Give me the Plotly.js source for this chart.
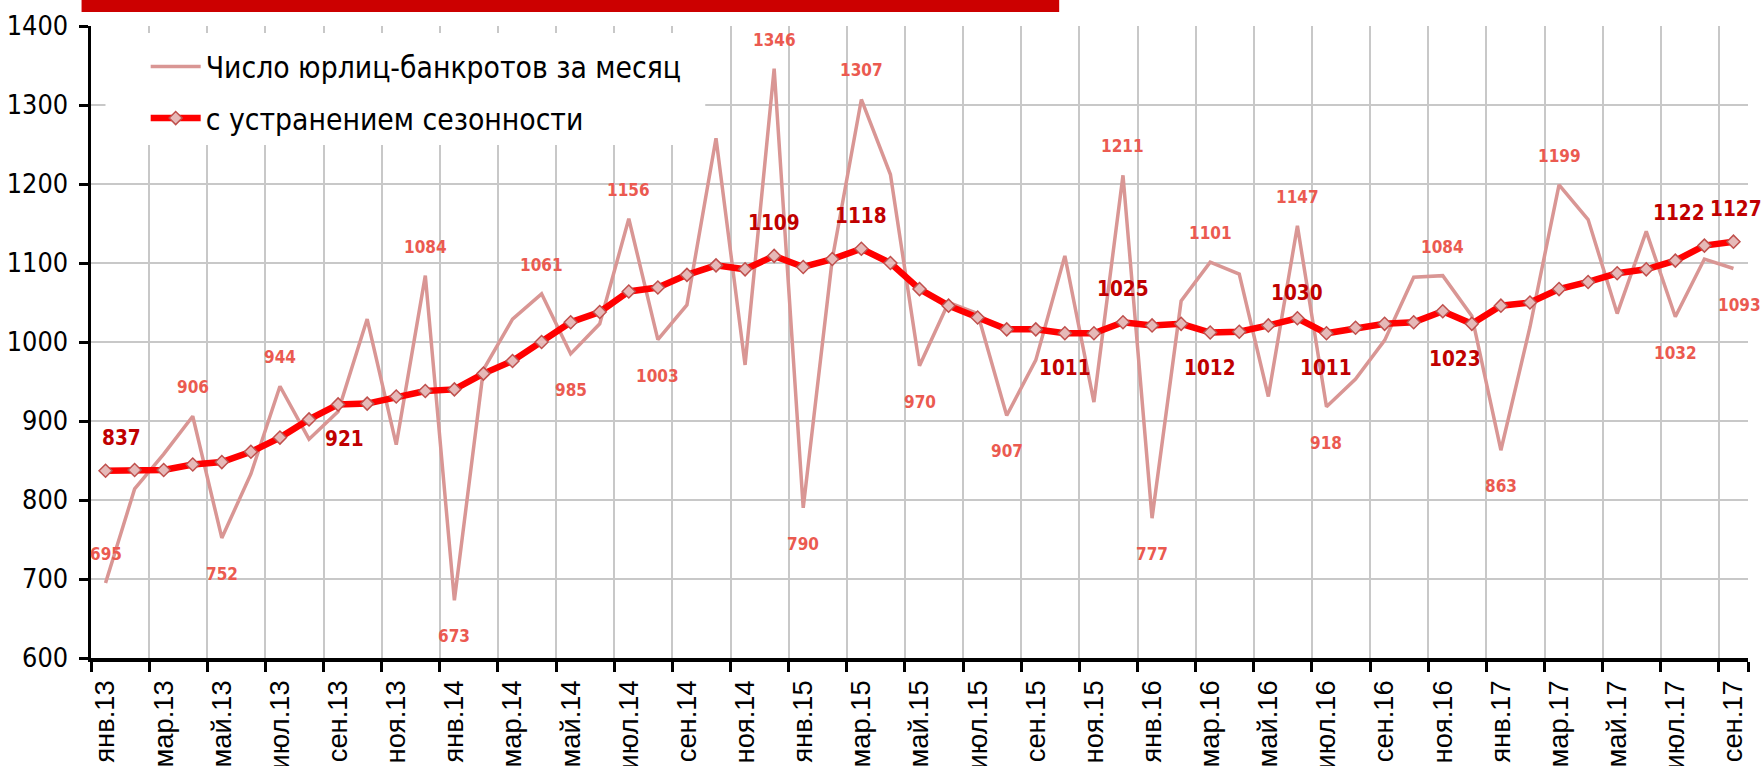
<!DOCTYPE html>
<html>
<head>
<meta charset="utf-8">
<script src="https://cdn.plot.ly/plotly-3.0.1.min.js"></script>
<style>
html,body{margin:0;padding:0;background:#fff;}
#chart{width:1763px;height:766px;}
</style>
</head>
<body>
<div id="chart"></div>
<script>
// ---- data ----
const months = [
  'янв.13','фев.13','мар.13','апр.13','май.13','июн.13','июл.13','авг.13','сен.13','окт.13','ноя.13','дек.13',
  'янв.14','фев.14','мар.14','апр.14','май.14','июн.14','июл.14','авг.14','сен.14','окт.14','ноя.14','дек.14',
  'янв.15','фев.15','мар.15','апр.15','май.15','июн.15','июл.15','авг.15','сен.15','окт.15','ноя.15','дек.15',
  'янв.16','фев.16','мар.16','апр.16','май.16','июн.16','июл.16','авг.16','сен.16','окт.16','ноя.16','дек.16',
  'янв.17','фев.17','мар.17','апр.17','май.17','июн.17','июл.17','авг.17','сен.17'
];
const rawName = 'Число юрлиц-банкротов за месяц';
const rawValues = [
  695, 814, 858, 906, 752, 833, 944, 877, 912, 1029, 870, 1084,
  673, 965, 1029, 1061, 985, 1023, 1156, 1003, 1047, 1258, 971, 1346,
  790, 1105, 1307, 1212, 970, 1050, 1036, 907, 977, 1109, 924, 1211,
  777, 1052, 1101, 1086, 931, 1147, 918, 953, 1002, 1082, 1084, 1033,
  863, 1019, 1199, 1155, 1036, 1140, 1032, 1105, 1093
];
const saName = 'с устранением сезонности';
const saValues = [
  837, 838, 838, 845, 848, 861, 879, 902, 921, 922, 931, 938,
  940, 960, 976, 1000, 1025, 1038, 1064, 1069, 1085, 1097, 1092, 1109,
  1095, 1105, 1118, 1100, 1067, 1046, 1031, 1016, 1016, 1011, 1011, 1025,
  1021, 1023, 1012, 1013, 1021, 1030, 1011, 1018, 1023, 1025, 1039, 1023,
  1046, 1050, 1067, 1076, 1087, 1092, 1103, 1122, 1127
];
const tickLabels = months.filter((m, i) => i % 2 === 0);

// ---- label placement (style) : index -> [above/below, xshift] ----
const rawLabelPos = {
  0:['a',0], 3:['a',0], 4:['b',0], 6:['a',0], 11:['a',0], 12:['b',0], 15:['a',0], 16:['b',0],
  18:['a',0], 19:['b',0], 23:['a',0], 24:['b',0], 26:['a',0], 28:['b',0], 31:['b',0], 35:['a',0],
  36:['b',0], 38:['a',0], 41:['a',0], 42:['b',0], 46:['a',0], 48:['b',0], 50:['a',0], 54:['b',0], 56:['b',6]
};
const saLabelPos = {
  0:['a',16], 8:['b',6], 23:['a',0], 26:['a',0], 33:['b',0], 35:['a',0], 38:['b',0],
  41:['a',0], 42:['b',0], 47:['b',-17], 55:['a',-25], 56:['a',3]
};

const NARROW = '"Liberation Sans Narrow", "Arial Narrow", "Noto Sans Condensed", "DejaVu Sans Condensed", sans-serif';
const REG = '"Liberation Sans", Arial, sans-serif';

// size a font so that a sample string gets roughly the width it has in the reference
const ctx = document.createElement('canvas').getContext('2d');
function fitSize(sample, family, weight, targetWidth) {
  ctx.font = weight + ' 100px ' + family;
  const w = ctx.measureText(sample).width;
  return Math.round(100 * targetWidth / w * 10) / 10;
}
const legendSize = fitSize(rawName, NARROW, 'normal', 462) * 1.03;
const yTickSize = fitSize('1400', NARROW, 'normal', 58) * 1.06;
const rawLabelSize = fitSize('1346', NARROW, 'bold', 38) * 1.12;
const saLabelSize = fitSize('1127', NARROW, 'bold', 46) * 1.12;
const xTickSize = fitSize('июл.13', REG, 'normal', 89);

const annotations = [];
Object.keys(rawLabelPos).forEach(k => {
  const i = +k, p = rawLabelPos[k];
  annotations.push({
    x: months[i], y: rawValues[i], xref: 'x', yref: 'y', text: String(rawValues[i]),
    showarrow: false, xshift: p[1], yshift: p[0] === 'a' ? 29 : -36,
    font: {family: NARROW, size: rawLabelSize, color: '#EB5A50', weight: 'bold'}
  });
});
Object.keys(saLabelPos).forEach(k => {
  const i = +k, p = saLabelPos[k];
  annotations.push({
    x: months[i], y: saValues[i], xref: 'x', yref: 'y', text: String(saValues[i]),
    showarrow: false, xshift: p[1], yshift: p[0] === 'a' ? (i === 41 ? 25 : 33) : -35,
    font: {family: NARROW, size: saLabelSize, color: '#C00000', weight: 'bold'}
  });
});

const traces = [
  {
    type: 'scatter', mode: 'lines', name: rawName, x: months, y: rawValues,
    line: {color: '#D99694', width: 3.5}, legendgroup: 'g1'
  },
  {
    type: 'scatter', mode: 'lines+markers', name: saName, x: months, y: saValues,
    line: {color: '#FF0000', width: 6.5},
    marker: {symbol: 'diamond', size: 10, color: '#E6B9B8', line: {color: '#C0504D', width: 1.5}},
    legendgroup: 'g2'
  }
];

const layout = {
  width: 1763, height: 766,
  margin: {l: 90.5, r: 15, t: 26, b: 108},
  paper_bgcolor: '#ffffff', plot_bgcolor: '#ffffff',
  showlegend: true,
  hovermode: false,
  legend: {
    x: 0.033, y: 0.977, xanchor: 'left', yanchor: 'top',
    bgcolor: 'rgba(0,0,0,0)', borderwidth: 0,
    font: {family: NARROW, size: legendSize, color: '#000000'},
    tracegroupgap: 10, itemwidth: 50
  },
  xaxis: {
    type: 'category', range: [-0.5, months.length - 0.5],
    tickmode: 'array', tickvals: tickLabels, ticktext: tickLabels,
    tickson: 'boundaries', tickangle: -90,
    ticks: 'outside', ticklen: 10, tickwidth: 3, tickcolor: '#000000',
    ticklabelstandoff: 8,
    showgrid: true, gridcolor: '#C8C8C8', gridwidth: 2,
    showline: true, linecolor: '#000000', linewidth: 3.5,
    tickfont: {family: REG, size: xTickSize, color: '#000000'},
    zeroline: false, fixedrange: true
  },
  yaxis: {
    range: [600, 1400], tickmode: 'linear', tick0: 600, dtick: 100,
    ticks: 'outside', ticklen: 9, tickwidth: 3, tickcolor: '#000000',
    ticklabelstandoff: 5,
    showgrid: true, gridcolor: '#C8C8C8', gridwidth: 2,
    showline: true, linecolor: '#000000', linewidth: 3.5,
    tickfont: {family: NARROW, size: yTickSize, color: '#000000'},
    zeroline: false, fixedrange: true
  },
  shapes: [
    {type: 'rect', xref: 'paper', yref: 'paper', x0: -0.0057, x1: 0.5843, y0: 1.0222, y1: 1.0411,
     fillcolor: '#CC0000', line: {width: 0}, layer: 'above'},
    {type: 'rect', xref: 'paper', yref: 'paper', x0: 0.00875, x1: 0.3707, y0: 0.8117, y1: 0.9889,
     fillcolor: '#FFFFFF', line: {width: 0}, layer: 'above'}
  ],
  annotations: annotations
};

Plotly.newPlot('chart', traces, layout, {staticPlot: true, displayModeBar: false});
</script>
</body>
</html>
